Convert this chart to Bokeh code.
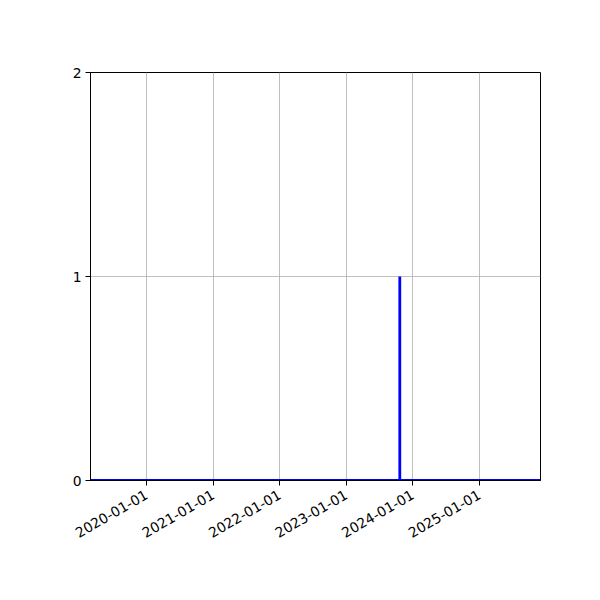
import math
from datetime import datetime
from bokeh.plotting import figure
from bokeh.models import Range1d, FixedTicker, DatetimeTickFormatter
from bokeh.embed import file_html
from bokeh.resources import INLINE

# data
dates = ["2019-02-28", "2023-10-22", "2023-10-22", "2023-10-22", "2025-12-02"]
values = [0, 0, 1, 0, 0]
x_tick_labels = ["2020-01-01", "2021-01-01", "2022-01-01", "2023-01-01", "2024-01-01", "2025-01-01"]
y_ticks = [0, 1, 2]
x_start = "2019-02-28"
x_end = "2025-12-02"

def ms(s):
    return (datetime.strptime(s, "%Y-%m-%d") - datetime(1970, 1, 1)).total_seconds() * 1000.0

xs = [ms(d) for d in dates]

p = figure(width=584, height=584, output_backend="svg", toolbar_location=None,
           x_axis_type="datetime",
           x_range=Range1d(ms(x_start), ms(x_end)), y_range=Range1d(0, 2),
           min_border_left=90, min_border_right=44, min_border_top=72, min_border_bottom=104)

p.line(xs, values, line_color="#0000ff", line_width=2.8)

p.xaxis.ticker = FixedTicker(ticks=[ms(t) for t in x_tick_labels])
p.xaxis.formatter = DatetimeTickFormatter(days="%Y-%m-%d", months="%Y-%m-%d", years="%Y-%m-%d")
p.xaxis.major_label_orientation = math.pi / 6
p.yaxis.ticker = FixedTicker(ticks=y_ticks)

for ax in (p.xaxis[0], p.yaxis[0]):
    ax.major_label_text_font = "DejaVu Sans"
    ax.major_label_text_font_size = "13.9px"
    ax.major_label_text_color = "black"
    ax.major_tick_out = 5
    ax.major_tick_in = 0
    ax.minor_tick_out = 0
    ax.minor_tick_in = 0
    ax.axis_line_color = "black"
    ax.major_tick_line_color = "black"
p.xaxis.major_label_standoff = 8
p.yaxis.major_label_standoff = 4

p.grid.grid_line_color = "#b0b0b0"
p.grid.grid_line_width = 0.8
p.outline_line_color = "black"
p.outline_line_width = 1
p.background_fill_color = "white"
p.border_fill_color = "white"

open("out.html", "w").write(file_html(p, INLINE))
